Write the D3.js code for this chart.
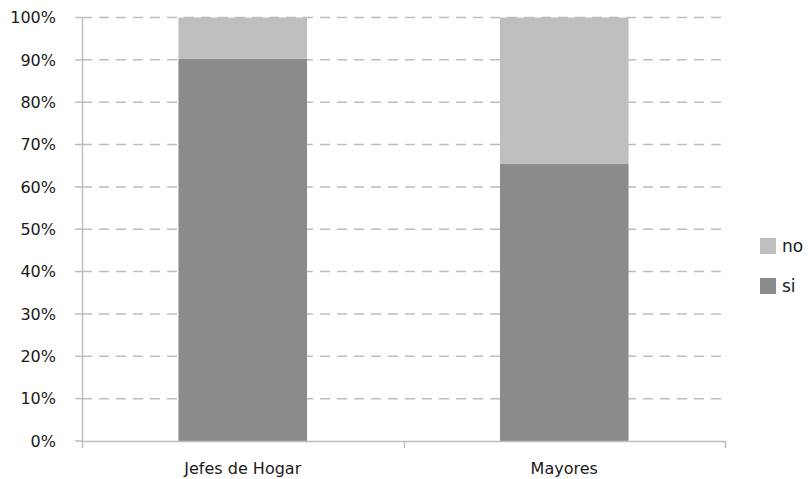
<!DOCTYPE html>
<html><head><meta charset="utf-8">
<script src="https://cdn.jsdelivr.net/npm/d3@7"></script>
<style>body{margin:0;background:#fff}svg{display:block}text{font-family:"DejaVu Sans",Verdana,sans-serif;fill:#1a1a1a}</style>
</head><body><svg width="809" height="479"></svg>
<script>
const categories = ["Jefes de Hogar", "Mayores"];
const seriesNames = ["si", "no"];
const siValues = [90.3, 65.4];
const noValues = [9.7, 34.6];
const yTicks = [0,10,20,30,40,50,60,70,80,90,100];
const colors = {si:"#8a8b8c", no:"#bdbec0"};

const svg = d3.select("svg");
const x = d3.scaleBand().domain(categories).range([82, 725]).paddingInner(0.6).paddingOuter(0.3);
const y = d3.scaleLinear().domain([0,100]).range([441, 17.5]);

// gridlines
svg.append("g").selectAll("line").data(yTicks.filter(d=>d>0)).join("line")
  .attr("x1",82).attr("x2",725).attr("y1",d=>y(d)).attr("y2",d=>y(d))
  .attr("stroke","#bdbdbd").attr("stroke-width",1.5).attr("stroke-dasharray","10,7");

const data = categories.map((c,i)=>({cat:c, si:siValues[i], no:noValues[i]}));
const stack = d3.stack().keys(seriesNames)(data);
svg.append("g").selectAll("g").data(stack).join("g").attr("fill",d=>colors[d.key])
  .selectAll("rect").data(d=>d).join("rect")
  .attr("x",d=>x(d.data.cat)).attr("width",x.bandwidth())
  .attr("y",d=>y(d[1])).attr("height",d=>y(d[0])-y(d[1]));

// y axis
const ya = svg.append("g");
ya.append("line").attr("x1",82.5).attr("x2",82.5).attr("y1",y(100)).attr("y2",441).attr("stroke","#bdbdbd").attr("stroke-width",1.5);
ya.selectAll("line.t").data(yTicks).join("line").attr("class","t")
  .attr("x1",75).attr("x2",82).attr("y1",d=>y(d)).attr("y2",d=>y(d)).attr("stroke","#bdbdbd").attr("stroke-width",1.5);
ya.selectAll("text").data(yTicks).join("text")
  .attr("x",56).attr("y",d=>y(d)).attr("dy","0.36em").attr("text-anchor","end")
  .attr("font-size",16).text(d=>d+"%");

// x axis
const xa = svg.append("g");
xa.append("line").attr("x1",82).attr("x2",725).attr("y1",441.5).attr("y2",441.5).attr("stroke","#bdbdbd").attr("stroke-width",1.5);
const xticks = [82, 403.5, 725];
xa.selectAll("line.t").data(xticks).join("line").attr("class","t")
  .attr("x1",d=>Math.round(d)+0.5).attr("x2",d=>Math.round(d)+0.5).attr("y1",441).attr("y2",448).attr("stroke","#bdbdbd").attr("stroke-width",1.5);
xa.selectAll("text").data(categories).join("text")
  .attr("x",d=>x(d)+x.bandwidth()/2).attr("y",474).attr("text-anchor","middle")
  .attr("font-size",16).text(d=>d);

// legend
const legendItems = ["no","si"];
const lg = svg.append("g").selectAll("g").data(legendItems).join("g")
  .attr("transform",(d,i)=>`translate(760,${238+i*40})`);
lg.append("rect").attr("width",16).attr("height",16).attr("fill",d=>colors[d]);
lg.append("text").attr("x",22).attr("y",8).attr("dy","0.36em").attr("font-size",17).text(d=>d);
</script></body></html>
